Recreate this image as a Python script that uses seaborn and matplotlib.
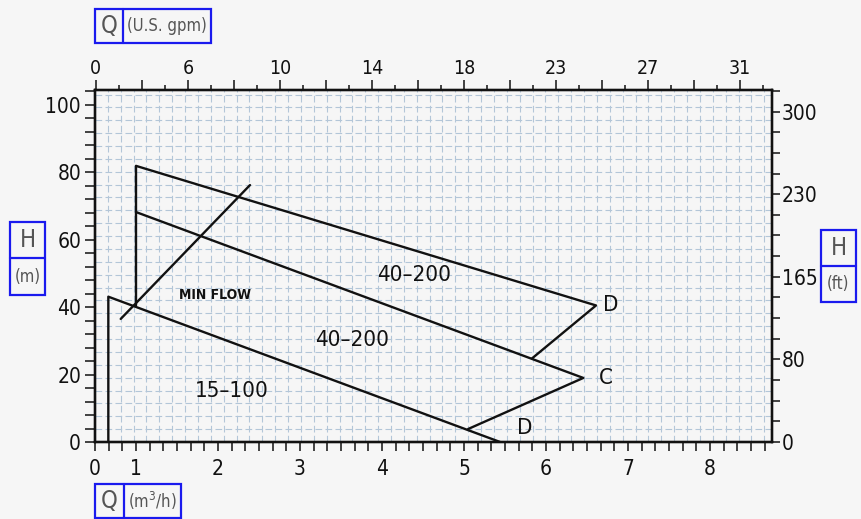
import numpy as np
import pandas as pd
import seaborn as sns
import matplotlib.pyplot as plt
from matplotlib.patches import Rectangle
from matplotlib.ticker import FixedLocator, MultipleLocator

# -----------------------------
# DATA  (Q in m3/h, H in m)
# -----------------------------
d_q = [5.83, 6.61, 1.0, 1.0]          # 40-200 D
d_h = [24.8, 40.5, 81.9, 40.5]
c_q = [5.05, 6.455, 1.0]              # 40-200 C
c_h = [3.85, 19.0, 68.2]
s_q = [0.325, 0.325, 5.44]            # 15-100 D
s_h = [0.0, 43.1, 0.0]
mf_q = [0.627, 2.39]                  # min flow line
mf_h = [36.5, 76.2]

q_ticks = [0, 1, 2, 3, 4, 5, 6, 7, 8]
h_ticks = [0, 20, 40, 60, 80, 100]
gpm_labels = ["0", "6", "10", "14", "18", "23", "27", "31"]
ft_pos = [0, 24.5, 49.0, 73.5, 98.0]
ft_labels = ["0", "80", "165", "230", "300"]

df = pd.DataFrame({
    "Q": d_q + c_q + s_q + mf_q,
    "H": d_h + c_h + s_h + mf_h,
    "curve": ["D"] * len(d_q) + ["C"] * len(c_q) + ["S"] * len(s_q) + ["MF"] * len(mf_q),
})

# -----------------------------
# SETUP
# -----------------------------
sns.set_theme(style="ticks")
plt.rcParams["font.family"] = ["DejaVu Sans"]
plt.rcParams["font.stretch"] = "condensed"
bg = "#f6f6f6"
ink = "#111111"

fig = plt.figure(figsize=(8.61, 5.19), dpi=100, facecolor=bg)
pos = [95 / 861, 1 - 442 / 519, 677 / 861, 352 / 519]

# background mesh (square cells)
grid_ax = fig.add_axes(pos, zorder=0)
grid_ax.set_facecolor(bg)
grid_ax.set_xlim(0, 677)
grid_ax.set_ylim(0, 352)
grid_ax.xaxis.set_major_locator(MultipleLocator(12.87))
grid_ax.yaxis.set_major_locator(MultipleLocator(12.87))
grid_ax.grid(True, color="#b3c6d8", linestyle=(0, (6, 3)), linewidth=0.8)
grid_ax.tick_params(length=0, labelbottom=False, labelleft=False)
for s in grid_ax.spines.values():
    s.set_visible(False)

ax = fig.add_axes(pos, zorder=1)
ax.patch.set_alpha(0)


def fwd(q):
    q = np.asarray(q, dtype=float)
    return np.where(q < 1, q * 0.5, q - 0.5)


def inv(t):
    t = np.asarray(t, dtype=float)
    return np.where(t < 0.5, t * 2, t + 0.5)


ax.set_xscale("function", functions=(fwd, inv))

sns.lineplot(data=df, x="Q", y="H", units="curve", estimator=None, sort=False,
             color=ink, linewidth=1.7, ax=ax)

ax.set_xlim(0, 8.756)
ax.set_ylim(0, 104.4)
ax.set_xlabel("")
ax.set_ylabel("")

ax.xaxis.set_major_locator(FixedLocator(q_ticks))
ax.set_xticklabels([str(v) for v in q_ticks])
ax.xaxis.set_minor_locator(FixedLocator(inv(np.arange(0, 8.26, 1 / 6))))
ax.yaxis.set_major_locator(FixedLocator(h_ticks))
ax.yaxis.set_minor_locator(MultipleLocator(4))
ax.tick_params(axis="x", which="both", length=6.5, width=1.1, color=ink,
               labelsize=15, pad=6, labelcolor=ink)
ax.tick_params(axis="y", which="both", length=7, width=1.1, color=ink,
               labelsize=15, pad=3, labelcolor=ink)
for s in ax.spines.values():
    s.set_linewidth(1.6)
    s.set_color(ink)

# top axis (U.S. gpm)
ax_top = ax.twiny()
ax_top.set_xlim(-0.01, 7.35)
halves = np.arange(0, 7.4, 0.5)
ax_top.xaxis.set_major_locator(FixedLocator(halves))
ax_top.set_xticklabels([gpm_labels[int(v)] if v == int(v) else "" for v in halves])
ax_top.xaxis.set_minor_locator(FixedLocator(np.arange(0.25, 7.4, 0.5)))
ax_top.tick_params(axis="x", which="major", length=7, width=1.1, color=ink,
                   labelsize=14, pad=2, labelcolor=ink)
ax_top.tick_params(axis="x", which="minor", length=3.5, width=1.1, color=ink)

# right axis (ft)
ax_r = ax.twinx()
ax_r.set_ylim(0, 104.4)
ax_r.yaxis.set_major_locator(FixedLocator(ft_pos))
ax_r.set_yticklabels(ft_labels)
ax_r.yaxis.set_minor_locator(MultipleLocator(24.5 / 4))
ax_r.tick_params(axis="y", which="both", length=6, width=1.1, color=ink,
                 labelsize=15, pad=1, labelcolor=ink)
for a in (ax_top, ax_r):
    for s in a.spines.values():
        s.set_linewidth(1.6)
        s.set_color(ink)

# curve annotations
txt = dict(color=ink, ha="center", va="center", fontsize=16)
ax.text(4.39, 49.6, "40–200", **txt)
ax.text(3.634, 30.3, "40–200", **txt)
ax.text(2.17, 15.2, "15–100", **txt)
ax.text(6.79, 40.7, "D", **txt)
ax.text(6.73, 19.0, "C", **txt)
ax.text(5.744, 4.3, "D", **txt)
ax.text(1.963, 43.7, "MIN FLOW", color=ink, ha="center", va="center",
        fontsize=10, fontweight="bold")


# unit boxes
def box(x0, y0, x1, y1, split, horizontal, big, small):
    W, H = 861, 519
    blue = "#1a1aee"
    gray = "#555555"
    fig.patches.append(Rectangle((x0 / W, 1 - y1 / H), (x1 - x0) / W, (y1 - y0) / H,
                                 transform=fig.transFigure, fill=False,
                                 edgecolor=blue, linewidth=1.6))
    if horizontal:
        fig.lines.append(plt.Line2D([split / W] * 2, [1 - y0 / H, 1 - y1 / H],
                                    transform=fig.transFigure, color=blue, linewidth=1.6))
        yc = 1 - (y0 + y1) / 2 / H
        fig.text((x0 + split) / 2 / W, yc, big, ha="center", va="center", fontsize=17,
                 color=gray, fontweight="light")
        fig.text((split + x1) / 2 / W, yc, small, ha="center", va="center", fontsize=12,
                 color=gray)
    else:
        fig.lines.append(plt.Line2D([x0 / W, x1 / W], [1 - split / H] * 2,
                                    transform=fig.transFigure, color=blue, linewidth=1.6))
        xc = (x0 + x1) / 2 / W
        fig.text(xc, 1 - (y0 + split) / 2 / H, big, ha="center", va="center", fontsize=17,
                 color=gray, fontweight="light")
        fig.text(xc, 1 - (split + y1) / 2 / H, small, ha="center", va="center", fontsize=12,
                 color=gray)


box(95, 9, 211, 43, 123, True, "Q", "(U.S. gpm)")
box(95, 484, 181, 518, 124, True, "Q", "(m$^3$/h)")
box(10, 222, 45, 295, 258, False, "H", "(m)")
box(821, 230, 856, 302, 266, False, "H", "(ft)")

fig.savefig("out.png", dpi=100, facecolor=bg)
